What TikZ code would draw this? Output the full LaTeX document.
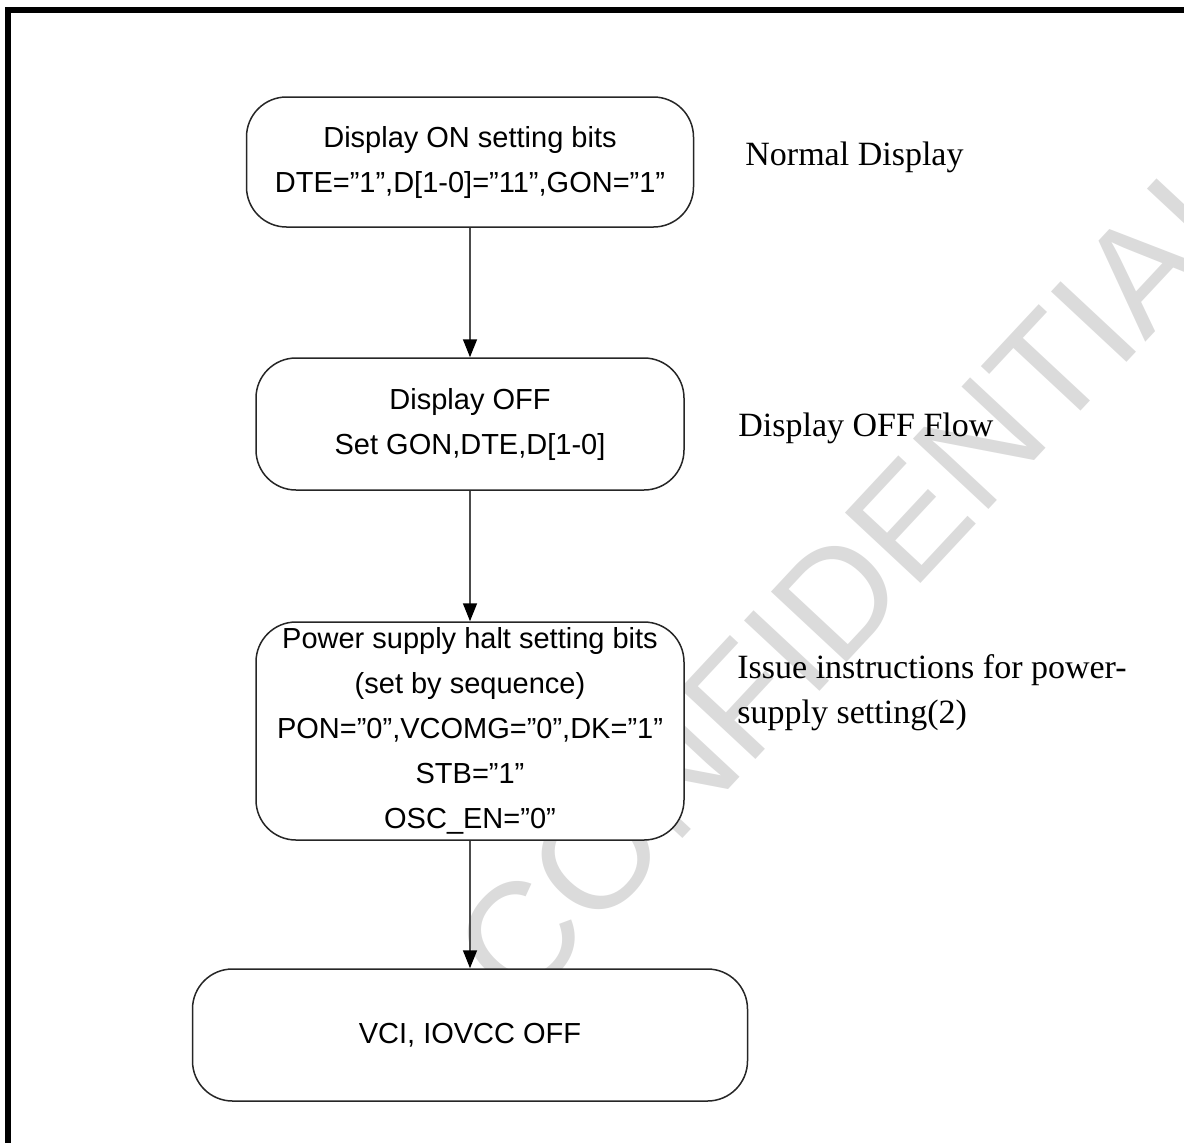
\documentclass[tikz,border=0pt]{standalone}
\usepackage{fontspec}
\setmainfont{Liberation Serif}
\setsansfont{Liberation Sans}
\usetikzlibrary{arrows.meta, positioning}

\begin{document}
\begin{tikzpicture}[x=0.5pt, y=-0.5pt,
	flowbox/.style={draw=black!85, line width=0.75pt, fill=white, rounded corners=20pt,
		inner sep=0pt, align=center, font=\sffamily\fontsize{14.5pt}{22.5pt}\selectfont},
	note/.style={anchor=base west, inner sep=0pt, align=left,
		font=\fontsize{17pt}{22.5pt}\selectfont},
	flow/.style={draw=black!70, line width=0.75pt, -{Triangle[width=7pt,length=9pt,color=black]}}]
	\useasboundingbox (0,0) rectangle (1184,1142);
	\clip (0,0) rectangle (1184,1142);
	% page frame, only its upper left part is on the sheet
	\draw[line width=3pt] (8,1300) |- (1300,10);
	% watermark under everything else
	\node[rotate=47, text=black!14, inner sep=0pt,
		font=\sffamily\fontsize{75pt}{80pt}\selectfont] (mark) at (858,575) {CONFIDENTIAL};
	% flow steps
	\node[flowbox, minimum width=223.5pt, minimum height=65pt] (dispon) at (470,162)
		{Display ON setting bits\\DTE=”1”,D[1-0]=”11”,GON=”1”};
	\node[flowbox, minimum width=214pt, minimum height=66pt] (dispoff) at (470,424)
		{Display OFF\\Set GON,DTE,D[1-0]};
	\node[flowbox, minimum width=214pt, minimum height=109pt] (halt) at (470,731)
		{Power supply halt setting bits\\(set by sequence)\\PON=”0”,VCOMG=”0”,DK=”1”\\STB=”1”\\OSC\_EN=”0”};
	\node[flowbox, minimum width=277.5pt, minimum height=66pt] (vcioff) at (470,1035)
		{VCI, IOVCC OFF};
	\draw[flow] (dispon) -- (dispoff);
	\draw[flow] (dispoff) -- (halt);
	\draw[flow] (halt) -- (vcioff);
	% notes on the right
	\node[note] (normal) at (745,165) {Normal Display};
	\node[note] (offflow) at (738,436) {Display OFF Flow};
	\node[note] (issue) at (737,723) {Issue instructions for power-\\supply setting(2)};
\end{tikzpicture}
\end{document}
